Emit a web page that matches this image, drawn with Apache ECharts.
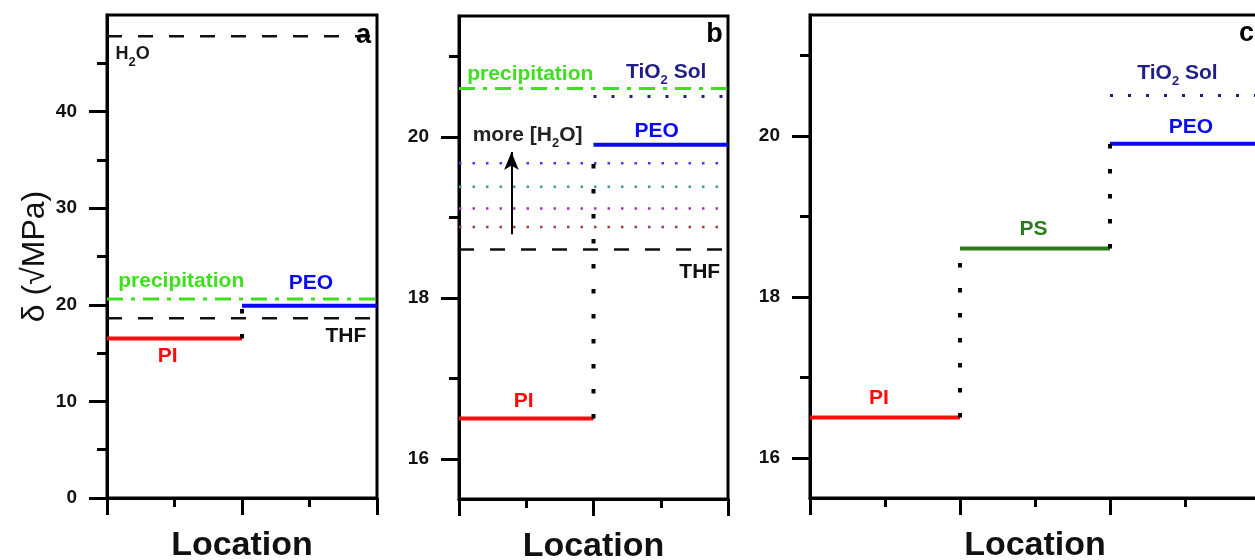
<!DOCTYPE html>
<html>
<head>
<meta charset="utf-8">
<script src="https://cdn.jsdelivr.net/npm/echarts@6/dist/echarts.min.js"></script>
<style>
html,body{margin:0;padding:0;background:#fff;}
#main{width:1255px;height:560px;}
</style>
</head>
<body>
<div id="main"></div>
<script>
// solubility parameters, delta in sqrt(MPa)
var polymers = ['PI', 'PS', 'PEO'];
var polymerDelta = [16.5, 18.6, 19.9];
var solvents = ['H2O', 'THF', 'precipitation', 'TiO2 Sol'];
var solventDelta = [47.8, 18.6, 20.6, 20.5];
// THF / H2O mixtures in panel b, bottom to top
var mixDelta = [18.88, 19.11, 19.38, 19.67];

// tick values
var ticksA = [0, 10, 20, 30, 40];
var minorA = [5, 15, 25, 35, 45];
var ticksBC = [16, 18, 20];
var minorBC = [17, 19, 21];

var PI = polymerDelta[0], PS = polymerDelta[1], PEO = polymerDelta[2];
var H2O = solventDelta[0], THF = solventDelta[1], PRECIP = solventDelta[2], TIO2 = solventDelta[3];

var font = '"Liberation Sans", Arial, sans-serif';
var red = '#ff0a0a', blue = '#0a0af0', lime = '#3ee01e', navy = '#1e1e86', psGreen = '#2c7a1a';
var mixColors = ['#a83c3c', '#9c3cb4', '#3c9c9c', '#3c3cf0'];
var dashed = [15, 16], dashDot = [16, 8, 4, 8], dots = [3, 15], fineDots = [2.5, 11], bigDots = [4.5, 20.5];

var series = [];
// one straight piece on grid g
function seg(g, x0, y0, x1, y1, color, width, type) {
	var s = {
		type: 'line', xAxisIndex: g, yAxisIndex: g * 2, silent: true,
		symbol: 'none', data: [[x0, y0], [x1, y1]],
		lineStyle: { color: color, width: width, type: type, cap: 'butt' }
	};
	series.push(s);
	return s;
}

// ---- panel a
seg(0, 0, H2O, 2, H2O, '#111', 2.5, dashed);
seg(0, 0, THF, 2, THF, '#111', 2.5, dashed);
seg(0, 0, PRECIP, 2, PRECIP, lime, 3, dashDot);
seg(0, 0, PI, 1, PI, red, 4, 'solid');
seg(0, 1, PEO, 2, PEO, blue, 4, 'solid');
seg(0, 1, PI, 1, PEO, '#000', 4, bigDots);

// ---- panel b
seg(1, 0, PRECIP, 2, PRECIP, lime, 3, dashDot);
seg(1, 1, TIO2, 2, TIO2, navy, 3, dots);
mixDelta.forEach(function (v, i) {
	seg(1, 0, v, 2, v, mixColors[i], 2.5, fineDots);
});
seg(1, 0, THF, 2, THF, '#111', 2.5, dashed);
seg(1, 1, PEO, 2, PEO, blue, 4, 'solid');
var piB = seg(1, 0, PI, 1, PI, red, 4, 'solid');
piB.markLine = {
	silent: true, symbol: ['none', 'arrow'], symbolSize: [11, 18],
	label: { show: false },
	lineStyle: { color: '#000', width: 2, type: 'solid' },
	data: [[{ coord: [0.39, mixDelta[0] - 0.09] }, { coord: [0.39, PEO - 0.09] }]]
};
seg(1, 1, PI, 1, PEO, '#000', 4, bigDots);

// ---- panel c
seg(2, 2, TIO2, 3, TIO2, navy, 3, dots);
seg(2, 0, PI, 1, PI, red, 4, 'solid');
seg(2, 1, PS, 2, PS, psGreen, 4, 'solid');
seg(2, 2, PEO, 3, PEO, blue, 4, 'solid');
seg(2, 1, PI, 1, PS, '#000', 4, bigDots);
seg(2, 2, PS, 2, PEO, '#000', 4, bigDots);

// text notes: [x, y, text, colour]
var notes = [
	[
		[0.19, 46.0, 'H{s|2}O', '#1a1a1a', 18],
		[0.55, 22.4, 'precipitation', lime],
		[1.51, 22.2, 'PEO', blue],
		[1.77, 16.8, 'THF', '#111'],
		[0.45, 14.7, 'PI', red],
		[1.9, 47.9, 'a', '#000', 27]
	],
	[
		[0.53, 20.78, 'precipitation', lime],
		[1.54, 20.8, 'TiO{s|2} Sol', navy],
		[0.51, 20.02, 'more [H{s|2}O]', '#222'],
		[1.47, 20.07, 'PEO', blue],
		[1.79, 18.32, 'THF', '#111'],
		[0.48, 16.72, 'PI', red],
		[1.9, 21.27, 'b', '#000', 27]
	],
	[
		[0.46, 16.74, 'PI', red],
		[1.49, 18.84, 'PS', psGreen],
		[2.54, 20.11, 'PEO', blue],
		[2.45, 20.78, 'TiO{s|2} Sol', navy],
		[2.91, 21.27, 'c', '#000', 27]
	]
];
notes.forEach(function (list, g) {
	series.push({
		type: 'scatter', xAxisIndex: g, yAxisIndex: g * 2, silent: true,
		symbolSize: 0, z: 5, itemStyle: { opacity: 1 },
		data: list.map(function (n) {
			return {
				value: [n[0], n[1]], name: n[2],
				label: {
					color: n[3], fontSize: n[4] || 21,
					fontWeight: n[2].length === 1 ? 900 : 'bold'
				}
			};
		}),
		label: {
			show: true, position: 'inside', formatter: function (p) { return p.name; },
			fontFamily: font, opacity: 1,
			rich: { s: { fontSize: 13, lineHeight: 30, verticalAlign: 'bottom', fontFamily: font } }
		}
	});
});

// axes
var grids = [
	{ left: 107, right: 878, top: 15, bottom: 62 },
	{ left: 459, right: 527, top: 16, bottom: 61 },
	{ left: 810, right: -5, top: 15, bottom: 62 }
];
grids.forEach(function (g) {
	g.show = true; g.borderColor = '#000'; g.borderWidth = 3; g.backgroundColor = 'transparent';
	g.containLabel = false; g.outerBoundsMode = 'none';
});
var xMax = [2, 2, 3];
var xAxis = xMax.map(function (m, i) {
	return {
		type: 'value', gridIndex: i, min: 0, max: m, interval: 1,
		name: 'Location', nameLocation: 'middle', nameGap: 31,
		nameTextStyle: { fontFamily: font, fontSize: 34, fontWeight: 'bold', color: '#111' },
		axisLine: { lineStyle: { color: '#000', width: 3 } },
		axisTick: { length: 17, lineStyle: { color: '#000', width: 3 } },
		minorTick: { show: true, splitNumber: 2, length: 9, lineStyle: { color: '#000', width: 3 } },
		axisLabel: { show: false },
		splitLine: { show: false }
	};
});
function yPair(g, min, max, major, minor, name) {
	var common = {
		type: 'value', gridIndex: g, min: min, max: max, position: 'left',
		splitLine: { show: false }
	};
	return [
		Object.assign({}, common, {
			name: name || '', nameLocation: 'middle', nameGap: 56, nameRotate: 90,
			nameTextStyle: { fontFamily: font, fontSize: 32, color: '#111' },
			axisLine: { lineStyle: { color: '#000', width: 3 } },
			axisTick: { customValues: major, length: 18, lineStyle: { color: '#000', width: 3 } },
			axisLabel: { customValues: major, margin: 30, fontFamily: font, fontSize: 19, fontWeight: 'bold', color: '#111' }
		}),
		Object.assign({}, common, {
			axisLine: { show: false },
			axisTick: { customValues: minor, length: 10, lineStyle: { color: '#000', width: 3 } },
			axisLabel: { show: false }
		})
	];
}
var yAxis = [].concat(
	yPair(0, 0, 50, ticksA, minorA, 'δ (√MPa)'),
	yPair(1, 15.5, 21.5, ticksBC, minorBC),
	yPair(2, 15.5, 21.5, ticksBC, minorBC)
);

var chart = echarts.init(document.getElementById('main'));
chart.setOption({
	animation: false,
	backgroundColor: '#fff',
	grid: grids,
	xAxis: xAxis,
	yAxis: yAxis,
	series: series
});
</script>
</body>
</html>
